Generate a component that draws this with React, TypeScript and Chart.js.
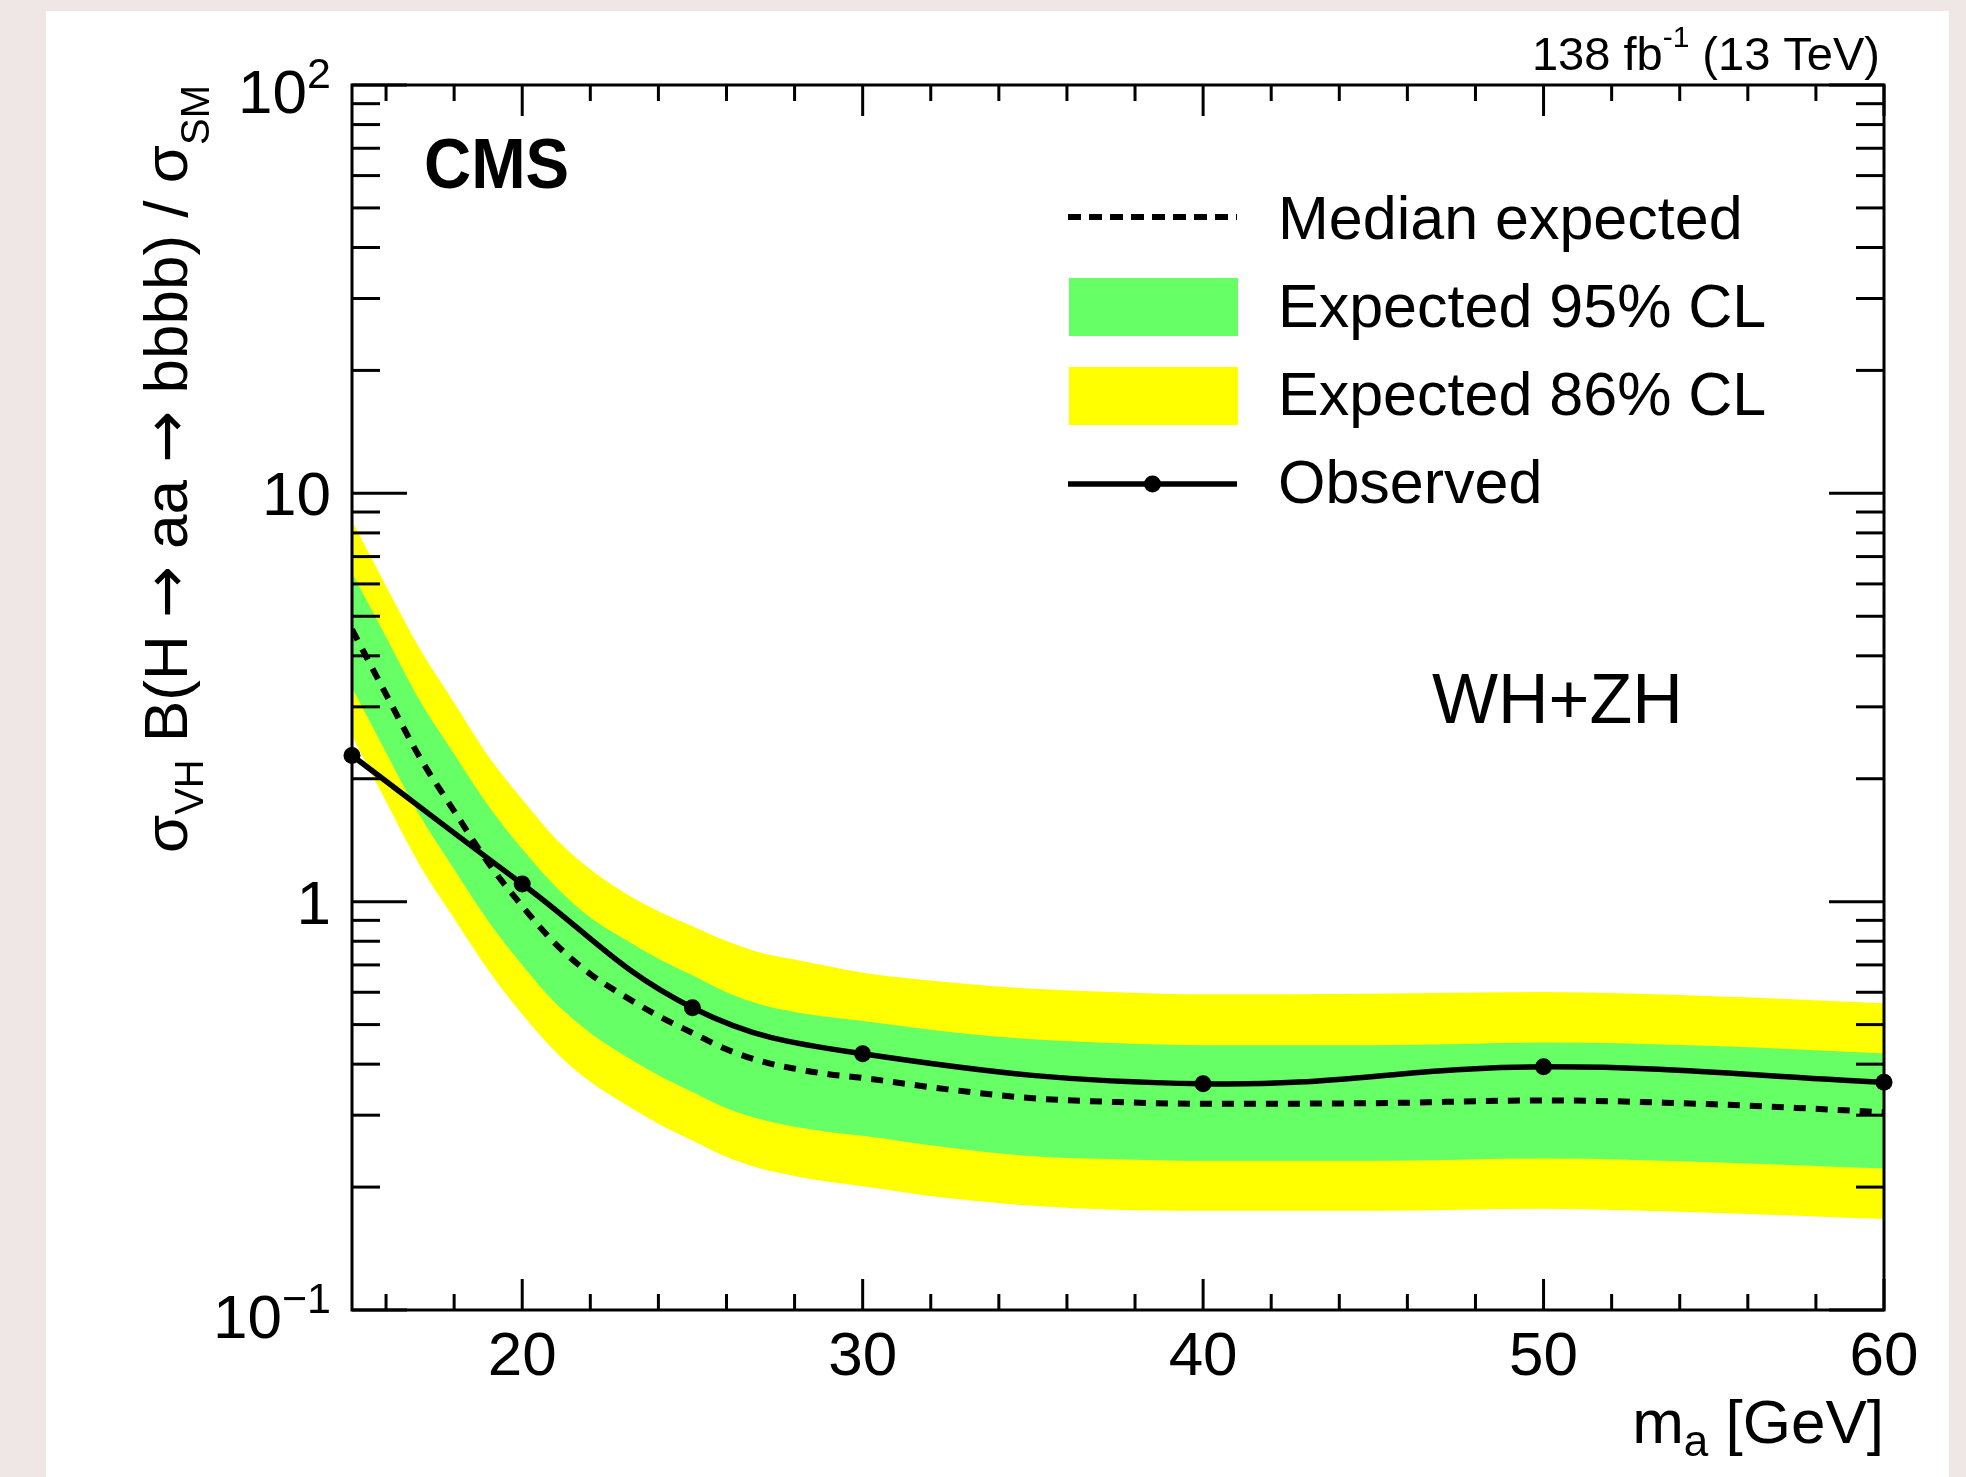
import { useEffect, useRef } from "react";
import { Chart, registerables } from "chart.js";

Chart.register(...registerables);

// Pseudoscalar mass grid (GeV) for the expected limit and its bands
const massPoints = [15, 16, 17, 18, 19, 20, 21, 22, 23, 24, 25, 26, 27, 28, 29, 30, 32.5, 35, 37.5, 40, 45, 50, 55, 60];
const medianExpected = [4.64, 3.22, 2.25, 1.667, 1.246, 0.975, 0.785, 0.665, 0.587, 0.525, 0.477, 0.435, 0.407, 0.39, 0.378, 0.37, 0.347, 0.33, 0.323, 0.32, 0.321, 0.326, 0.319, 0.305];
const band95High = [6.39, 4.45, 3.1, 2.3, 1.72, 1.345, 1.085, 0.915, 0.81, 0.725, 0.66, 0.6, 0.56, 0.537, 0.522, 0.51, 0.48, 0.46, 0.45, 0.445, 0.445, 0.452, 0.443, 0.425];
const band95Low = [3.34, 2.32, 1.62, 1.2, 0.897, 0.7, 0.562, 0.477, 0.42, 0.376, 0.342, 0.312, 0.293, 0.281, 0.273, 0.267, 0.25, 0.238, 0.234, 0.232, 0.232, 0.235, 0.23, 0.222];
const band86High = [8.55, 5.93, 4.15, 3.07, 2.274, 1.781, 1.421, 1.2, 1.052, 0.948, 0.871, 0.801, 0.75, 0.722, 0.695, 0.67, 0.635, 0.612, 0.6, 0.593, 0.595, 0.601, 0.587, 0.564];
const band86Low = [2.545, 1.76, 1.225, 0.91, 0.68, 0.53, 0.427, 0.362, 0.32, 0.286, 0.26, 0.237, 0.222, 0.213, 0.206, 0.201, 0.188, 0.18, 0.176, 0.175, 0.175, 0.177, 0.173, 0.167];

// Observed limit at the simulated mass points
const observedMass = [15, 20, 25, 30, 40, 50, 60];
const observedLimit = [2.28, 1.105, 0.55, 0.424, 0.358, 0.394, 0.361];

// Axis ticks
const xMajorTicks = [20, 30, 40, 50, 60];
const xMinorTicks = [16, 18, 22, 24, 26, 28, 32, 34, 36, 38, 42, 44, 46, 48, 52, 54, 56, 58];
const yMajorTicks = [0.1, 1, 10, 100];
const yTickBase = ["10", "1", "10", "10"];
const yTickExponent = ["\u22121", "", "", "2"];
const yMinorTicks = [0.2, 0.3, 0.4, 0.5, 0.6, 0.7, 0.8, 0.9, 2, 3, 4, 5, 6, 7, 8, 9, 20, 30, 40, 50, 60, 70, 80, 90];

const legendLabels = ["Median expected", "Expected 95% CL", "Expected 86% CL", "Observed"];

const GREEN = "#66ff66";
const YELLOW = "#ffff00";
const FAMILY = '"Liberation Sans", Arial, Helvetica, sans-serif';
const SYMBOL_FAMILY = '"DejaVu Sans", sans-serif';

type Part = { text: string; size: number; dy?: number; bold?: boolean; family?: string };

function fontOf(p: Part) {
  return `${p.bold ? "bold " : ""}${p.size}px ${p.family || FAMILY}`;
}

function drawParts(
  ctx: CanvasRenderingContext2D,
  parts: Part[],
  x: number,
  y: number,
  align: "left" | "right" | "center",
) {
  const widths = parts.map((p) => {
    ctx.font = fontOf(p);
    return ctx.measureText(p.text).width;
  });
  const total = widths.reduce((a, b) => a + b, 0);
  let cx = align === "left" ? x : align === "right" ? x - total : x - total / 2;
  ctx.textAlign = "left";
  ctx.textBaseline = "alphabetic";
  parts.forEach((p, i) => {
    ctx.font = fontOf(p);
    ctx.fillText(p.text, cx, y + (p.dy || 0));
    cx += widths[i];
  });
}

const toXY = (xs: number[], ys: number[]) => xs.map((x, i) => ({ x, y: ys[i] }));

const decorations = {
  id: "cmsDecorations",
  beforeDraw(chart: any) {
    const { ctx, width, height } = chart;
    ctx.save();
    ctx.fillStyle = "#efe7e6";
    ctx.fillRect(0, 0, width, height);
    ctx.fillStyle = "#ffffff";
    ctx.fillRect(46, 11, 1903, height - 11);
    ctx.restore();
  },
  afterDraw(chart: any) {
    const { ctx, chartArea: a, scales } = chart;
    const xs = scales.x;
    const ys = scales.y;
    ctx.save();
    ctx.strokeStyle = "#000";
    ctx.fillStyle = "#000";
    ctx.lineWidth = 3;
    ctx.lineCap = "butt";
    ctx.setLineDash([]);

    const seg = (x1: number, y1: number, x2: number, y2: number) => {
      ctx.beginPath();
      ctx.moveTo(x1, y1);
      ctx.lineTo(x2, y2);
      ctx.stroke();
    };

    // frame
    ctx.strokeRect(a.left, a.top, a.right - a.left, a.bottom - a.top);

    // ticks pointing inward on all four sides
    for (const v of xMajorTicks) {
      const px = xs.getPixelForValue(v);
      seg(px, a.bottom, px, a.bottom - 31);
      seg(px, a.top, px, a.top + 31);
    }
    for (const v of xMinorTicks) {
      const px = xs.getPixelForValue(v);
      seg(px, a.bottom, px, a.bottom - 16);
      seg(px, a.top, px, a.top + 16);
    }
    for (const v of yMajorTicks) {
      const py = ys.getPixelForValue(v);
      seg(a.left, py, a.left + 55, py);
      seg(a.right, py, a.right - 55, py);
    }
    for (const v of yMinorTicks) {
      const py = ys.getPixelForValue(v);
      seg(a.left, py, a.left + 28, py);
      seg(a.right, py, a.right - 28, py);
    }

    // x tick labels
    for (const v of xMajorTicks) {
      drawParts(ctx, [{ text: String(v), size: 62 }], xs.getPixelForValue(v), a.bottom + 65, "center");
    }
    // y tick labels
    yMajorTicks.forEach((v, i) => {
      const py = ys.getPixelForValue(v);
      const exp = yTickExponent[i];
      if (exp) {
        drawParts(
          ctx,
          [
            { text: yTickBase[i], size: 62 },
            { text: exp, size: 43, dy: -25 },
          ],
          a.left - 21,
          py + 28,
          "right",
        );
      } else {
        drawParts(ctx, [{ text: yTickBase[i], size: 62 }], a.left - 21, py + 22, "right");
      }
    });

    // x axis title
    drawParts(
      ctx,
      [
        { text: "m", size: 62 },
        { text: "a", size: 44, dy: 13 },
        { text: " [GeV]", size: 62 },
      ],
      a.right,
      1443,
      "right",
    );

    // y axis title, rotated, ending at the top of the frame
    ctx.save();
    ctx.translate(187, a.top);
    ctx.rotate(-Math.PI / 2);
    drawParts(
      ctx,
      [
        { text: "\u03c3", size: 62 },
        { text: "VH", size: 40, dy: 16 },
        { text: " B(H ", size: 62 },
        { text: "\u2192", size: 62, family: SYMBOL_FAMILY },
        { text: " aa ", size: 62 },
        { text: "\u2192", size: 62, family: SYMBOL_FAMILY },
        { text: " bbbb) / \u03c3", size: 62 },
        { text: "SM", size: 40, dy: 22 },
      ],
      0,
      0,
      "right",
    );
    ctx.restore();

    // luminosity label
    drawParts(
      ctx,
      [
        { text: "138 fb", size: 47 },
        { text: "-1", size: 30, dy: -23 },
        { text: " (13 TeV)", size: 47 },
      ],
      1880,
      70,
      "right",
    );

    // CMS label
    ctx.save();
    ctx.translate(424, 188);
    ctx.scale(0.92, 1);
    drawParts(ctx, [{ text: "CMS", size: 71, bold: true }], 0, 0, "left");
    ctx.restore();

    // production mode label
    drawParts(ctx, [{ text: "WH+ZH", size: 70 }], 1432, 723, "left");

    // legend
    const lx0 = 1068;
    const lx1 = 1237;
    ctx.lineWidth = 6;
    ctx.setLineDash([13, 8]);
    seg(lx0, 217, lx1, 217);
    ctx.setLineDash([]);
    ctx.fillStyle = GREEN;
    ctx.fillRect(lx0 + 1, 278, lx1 - lx0, 58);
    ctx.fillStyle = YELLOW;
    ctx.fillRect(lx0 + 1, 367, lx1 - lx0, 58);
    ctx.fillStyle = "#000";
    ctx.lineWidth = 5.5;
    seg(lx0, 484, lx1, 484);
    ctx.beginPath();
    ctx.arc((lx0 + lx1) / 2, 484, 8.5, 0, Math.PI * 2);
    ctx.fill();
    const baselines = [239, 327, 415, 503];
    legendLabels.forEach((t, i) => drawParts(ctx, [{ text: t, size: 61 }], 1278, baselines[i], "left"));

    ctx.restore();
  },
};

export default function App() {
  const ref = useRef<HTMLCanvasElement>(null);

  useEffect(() => {
    document.body.style.margin = "0";
    const canvas = ref.current;
    if (!canvas) return;

    const bandStyle = {
      borderColor: "rgba(0,0,0,0)",
      borderWidth: 0,
      pointRadius: 0,
      cubicInterpolationMode: "monotone" as const,
    };

    const chart = new Chart(canvas, {
      type: "line",
      data: {
        datasets: [
          {
            label: "Observed",
            data: toXY(observedMass, observedLimit),
            borderColor: "#000",
            backgroundColor: "#000",
            borderWidth: 5.5,
            pointRadius: 8.5,
            pointBackgroundColor: "#000",
            pointBorderWidth: 0,
            tension: 0.4,
            fill: false,
            clip: false,
          },
          {
            label: "Median expected",
            data: toXY(massPoints, medianExpected),
            borderColor: "#000",
            borderWidth: 6,
            borderDash: [12, 10],
            pointRadius: 0,
            cubicInterpolationMode: "monotone",
            fill: false,
          },
          {
            label: "Expected 95% CL",
            data: toXY(massPoints, band95High),
            backgroundColor: GREEN,
            fill: "+1",
            ...bandStyle,
          },
          {
            label: "band95Low",
            data: toXY(massPoints, band95Low),
            fill: false,
            ...bandStyle,
          },
          {
            label: "Expected 86% CL",
            data: toXY(massPoints, band86High),
            backgroundColor: YELLOW,
            fill: "+1",
            ...bandStyle,
          },
          {
            label: "band86Low",
            data: toXY(massPoints, band86Low),
            fill: false,
            ...bandStyle,
          },
        ],
      },
      options: {
        responsive: false,
        devicePixelRatio: 1,
        animation: false,
        events: [],
        layout: { padding: { left: 352, right: 82, top: 85, bottom: 167 } },
        plugins: {
          legend: { display: false },
          tooltip: { enabled: false },
        },
        scales: {
          x: { type: "linear", min: 15, max: 60, display: false },
          y: { type: "logarithmic", min: 0.1, max: 100, display: false },
        },
      },
      plugins: [decorations],
    });

    return () => chart.destroy();
  }, []);

  return <canvas ref={ref} width={1966} height={1477} style={{ display: "block" }} />;
}
